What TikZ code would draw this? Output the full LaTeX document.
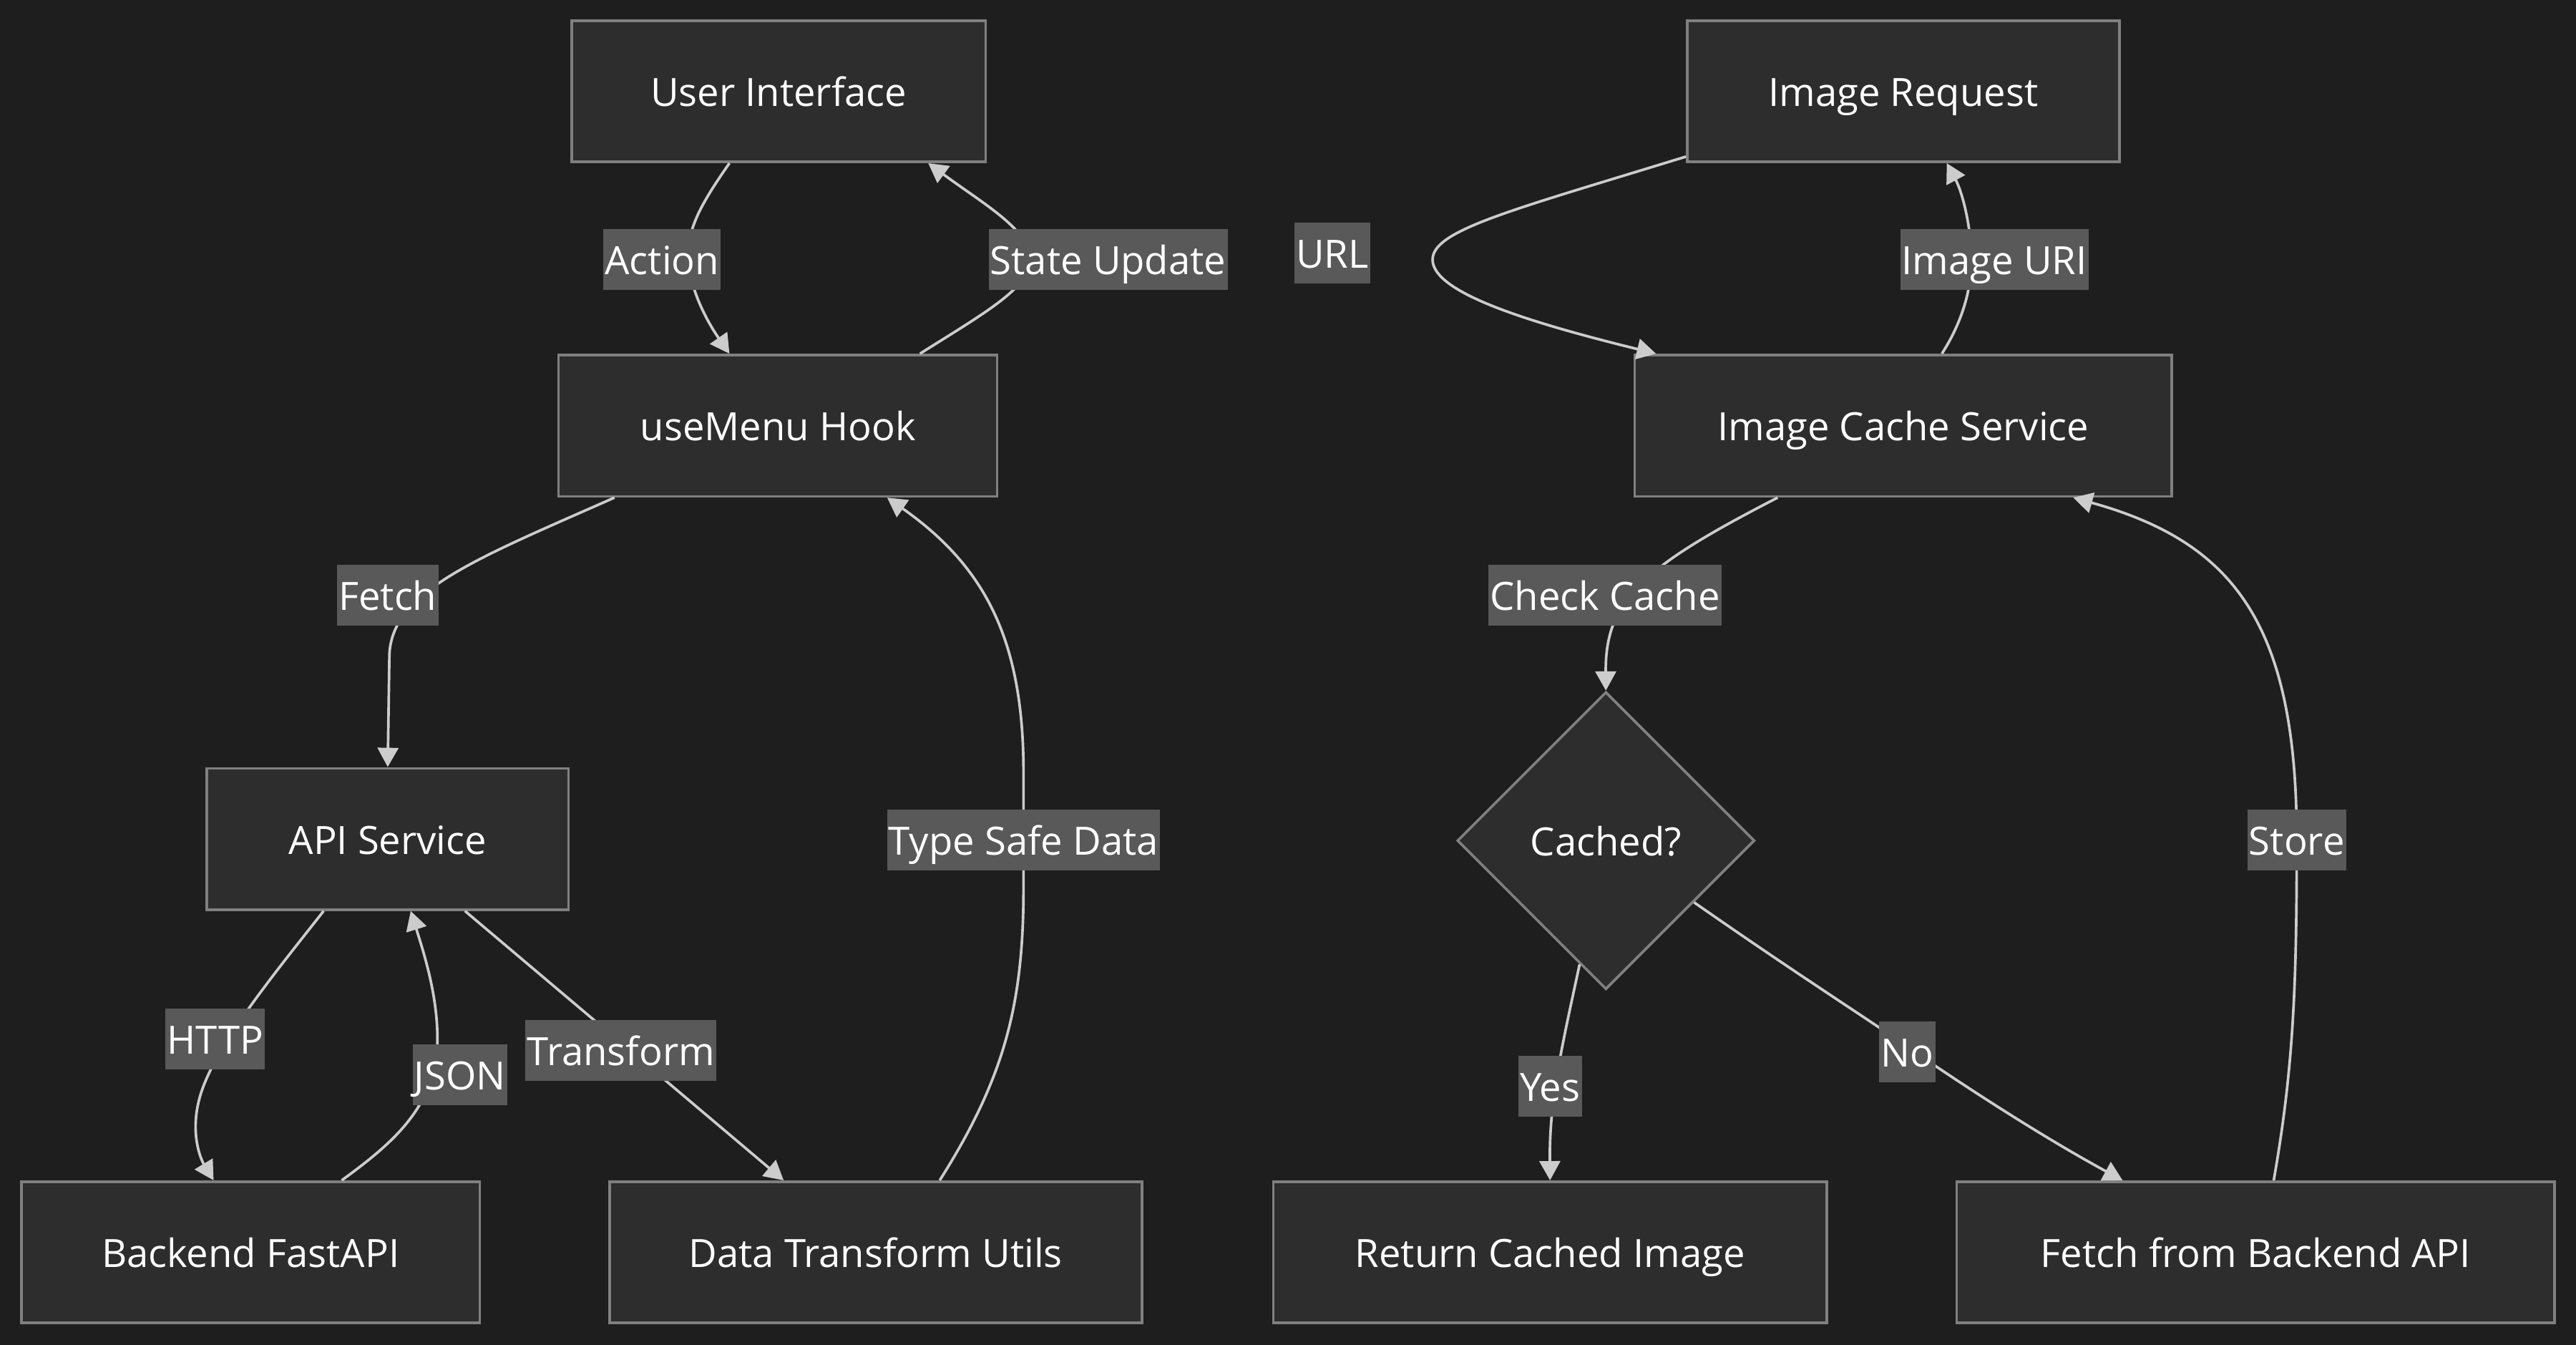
\documentclass[tikz,border=0pt]{standalone}
\usepackage{fontspec}
\setmainfont{Open Sans}
\usetikzlibrary{arrows.meta,shapes.geometric}
\definecolor{bgc}{HTML}{1E1E1E}
\definecolor{nodefill}{HTML}{2D2D2D}
\definecolor{nodeborder}{HTML}{808080}
\definecolor{edgecol}{HTML}{CCCCCC}
\definecolor{lblfill}{HTML}{595959}
\newcommand{\nfont}{\fontsize{23.7}{28}\selectfont}
\begin{document}
\begin{tikzpicture}[x=1pt,y=-1pt,
  box/.style={draw=nodeborder, fill=nodefill, line width=1.6pt, minimum height=86pt, inner sep=0pt, text=white, font=\nfont, text height=18.5pt, text depth=0pt},
  dia/.style={diamond, aspect=1, draw=nodeborder, fill=nodefill, line width=1.6pt, minimum width=181pt, minimum height=181pt, inner sep=0pt, text=white, font=\nfont, text height=18.5pt, text depth=0pt},
  lbl/.style={fill=lblfill, text=white, inner xsep=1pt, inner ysep=0pt, minimum height=37pt, font=\nfont, text height=18.5pt, text depth=0pt},
  edge/.style={draw=edgecol, line width=1.6pt, -{Triangle[width=12.6pt,length=11.7pt]}}]
\fill[bgc] (0,0) rectangle (1568,818.4);
\useasboundingbox (0,0) rectangle (1568,818.4);
% nodes
\node[box, minimum width=252pt] (ui) at (474,55.5) {User Interface};
\node[box, minimum width=267pt] (hook) at (473.5,259) {useMenu Hook};
\node[box, minimum width=220pt] (api) at (236,510.5) {API Service};
\node[box, minimum width=279pt] (be) at (152.5,762) {Backend FastAPI};
\node[box, minimum width=324pt] (dtu) at (533,762) {Data Transform Utils};
\node[box, minimum width=263pt] (ir) at (1158.5,55.5) {Image Request};
\node[box, minimum width=327pt] (ics) at (1158.5,259) {Image Cache Service};
\node[dia] (cached) at (977.5,511.5) {Cached?};
\node[box, minimum width=337pt] (rci) at (943.5,762) {Return Cached Image};
\node[box, minimum width=364pt] (fba) at (1373,762) {Fetch from Backend API};
% edges
\draw[edge] ([xshift=-30pt]ui.south) .. controls (426,125) and (418,140) .. (419,158) .. controls (420,176) and (430,195) .. ([xshift=-29.5pt]hook.north);
\draw[edge] ([xshift=86.5pt]hook.north) .. controls (600,190) and (627,175) .. (627,158) .. controls (627,140) and (600,125) .. ([xshift=91pt]ui.south);
\draw[edge] ([yshift=4pt]ir.south west) .. controls (920,128) and (872,140) .. (872,158) .. controls (872,178) and (930,196) .. ([xshift=-150.5pt]ics.north);
\draw[edge] ([xshift=23.5pt]ics.north) .. controls (1195,195) and (1200,175) .. (1200,158) .. controls (1200,140) and (1195,118) .. ([xshift=26.5pt]ir.south);
\draw[edge] ([xshift=-99.5pt]hook.south) .. controls (290,340) and (237,360) .. (237,400) -- (api.north);
\draw[edge] ([xshift=39pt]dtu.north) .. controls (612,655) and (623,610) .. (623,540) -- (623,470) .. controls (623,390) and (600,345) .. ([xshift=66.5pt]hook.south);
\draw[edge] ([xshift=-39pt]api.south) .. controls (165,595) and (128,640) .. (121,670) .. controls (116,690) and (122,705) .. ([xshift=-22.5pt]be.north);
\draw[edge] ([xshift=55.5pt]be.north) .. controls (240,695) and (262,675) .. (266,640) .. controls (268,610) and (258,580) .. ([xshift=14pt]api.south);
\draw[edge] ([xshift=47pt]api.south) -- ([xshift=-56pt]dtu.north);
\draw[edge] ([xshift=-76.5pt]ics.south) .. controls (1000,345) and (977,365) .. (cached.north);
\draw[edge] ([xshift=11pt]fba.north) .. controls (1396,650) and (1398,600) .. (1398,511) .. controls (1398,380) and (1360,330) .. ([xshift=103.5pt]ics.south);
\draw[edge] (cached.258) .. controls (950,640) and (943,670) .. (rci.north);
\draw[edge] (cached.-35) .. controls (1100,597) and (1140,622) .. (1161,637) .. controls (1190,657) and (1240,690) .. ([xshift=-81pt]fba.north);
% labels
\node[lbl] (lAction) at (403,158) {Action};
\node[lbl] (lState) at (674.5,158) {State Update};
\node[lbl] (lUrl) at (811,154) {URL};
\node[lbl] (lUri) at (1214,158) {Image URI};
\node[lbl] (lFetch) at (236,362) {Fetch};
\node[lbl] (lCheck) at (977,362) {Check Cache};
\node[lbl] (lType) at (623,511) {Type Safe Data};
\node[lbl] (lStore) at (1398,511) {Store};
\node[lbl] (lHttp) at (131,632) {HTTP};
\node[lbl] (lJson) at (280,654) {JSON};
\node[lbl] (lTrans) at (378,639) {Transform};
\node[lbl] (lYes) at (943.5,661) {Yes};
\node[lbl] (lNo) at (1161,640) {No};
\end{tikzpicture}
\end{document}
